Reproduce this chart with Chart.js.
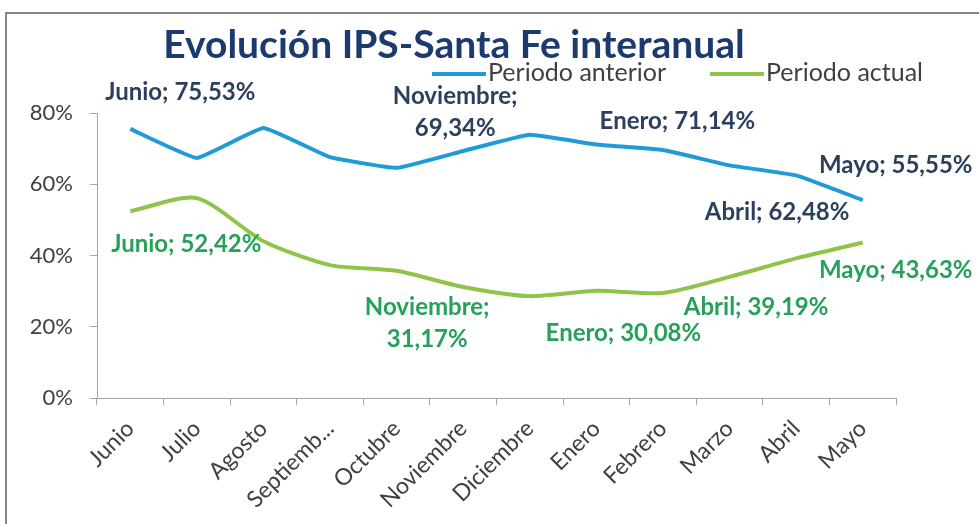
<!DOCTYPE html>
<html lang="es">
<head>
<meta charset="utf-8">
<title>Evolución IPS-Santa Fe interanual</title>
<script src="https://cdn.jsdelivr.net/npm/chart.js@4.4.1/dist/chart.umd.min.js"></script>
<style>
  html, body { margin: 0; padding: 0; background: #fff; overflow: hidden; }
  #wrap { position: relative; width: 979px; height: 524px; }
</style>
</head>
<body>
<div id="wrap"><canvas id="ipsChart"></canvas></div>
<script>
// Data
const MONTHS = ['Junio', 'Julio', 'Agosto', 'Septiembre', 'Octubre', 'Noviembre',
                'Diciembre', 'Enero', 'Febrero', 'Marzo', 'Abril', 'Mayo'];
const PREVIOUS = [75.53, 67.4, 75.8, 67.6, 64.6, 69.34, 73.9, 71.14, 69.6, 65.3, 62.48, 55.55];
const CURRENT  = [52.42, 56.1, 44.0, 37.3, 35.7, 31.17, 28.6, 30.08, 29.5, 34.0, 39.19, 43.63];
const Y_TICKS = [0, 20, 40, 60, 80];

const TITLE = 'Evolución IPS-Santa Fe interanual';
const COLOR_PREV = '#1f9bd8';
const COLOR_CURR = '#8fc449';
const LABEL_PREV = '#2b3f5f';
const LABEL_CURR = '#27a05a';
const FONT = "Lato, 'Noto Sans', sans-serif";

// which points get a data label, and where (offset of the label centre from the point)
// [dataset, index, dx, dy, splitIntoTwoLines]
const LABEL_SPOTS = [
  [0, 0, 50, -37, false],
  [0, 5, -8, -39, true],
  [0, 7, 81, -23, false],
  [0, 10, -19, 37, false],
  [0, 11, 33, -35, false],
  [1, 0, 56, 33, false],
  [1, 5, -36, 36, true],
  [1, 7, 27, 42, false],
  [1, 10, -40, 49, false],
  [1, 11, 33, 28, false]
];

const fmt = v => v.toFixed(2).replace('.', ',') + '%';

const framePlugin = {
  id: 'frame',
  beforeDraw(chart) {
    const ctx = chart.ctx;
    ctx.save();
    ctx.fillStyle = '#fff';
    ctx.fillRect(0, 0, chart.width, chart.height);
    ctx.strokeStyle = '#858585';
    ctx.lineWidth = 2;
    ctx.strokeRect(6, 13, chart.width + 40, chart.height + 40);
    ctx.restore();
  }
};

const headerPlugin = {
  id: 'header',
  afterDraw(chart) {
    const ctx = chart.ctx;
    ctx.save();
    // title
    ctx.fillStyle = '#1c3a6e';
    ctx.font = `bold 39px ${FONT}`;
    ctx.textAlign = 'center';
    ctx.textBaseline = 'middle';
    ctx.fillText(TITLE, 454, 45);

    // legend
    ctx.font = `25px ${FONT}`;
    ctx.textAlign = 'left';
    ctx.lineWidth = 4;
    const items = [[chart.data.datasets[0], 432], [chart.data.datasets[1], 710]];
    items.forEach(([ds, x]) => {
      ctx.strokeStyle = ds.borderColor;
      ctx.beginPath();
      ctx.moveTo(x, 74);
      ctx.lineTo(x + 54, 74);
      ctx.stroke();
      ctx.fillStyle = '#404040';
      ctx.fillText(ds.label, x + 56, 73);
    });
    ctx.restore();
  }
};

const pointLabelsPlugin = {
  id: 'pointLabels',
  afterDatasetsDraw(chart) {
    const ctx = chart.ctx;
    ctx.save();
    ctx.font = `bold 24px ${FONT}`;
    ctx.textAlign = 'center';
    ctx.textBaseline = 'middle';
    LABEL_SPOTS.forEach(([d, i, dx, dy, split]) => {
      const pt = chart.getDatasetMeta(d).data[i];
      const value = chart.data.datasets[d].data[i];
      ctx.fillStyle = d === 0 ? LABEL_PREV : LABEL_CURR;
      const x = pt.x + dx, y = pt.y + dy;
      if (split) {
        ctx.fillText(MONTHS[i] + ';', x, y - 16);
        ctx.fillText(fmt(value), x, y + 16);
      } else {
        ctx.fillText(`${MONTHS[i]}; ${fmt(value)}`, x, y);
      }
    });
    ctx.restore();
  }
};

Chart.defaults.font.family = FONT;

new Chart(document.getElementById('ipsChart'), {
  type: 'line',
  data: {
    labels: MONTHS,
    datasets: [{
      label: 'Periodo anterior',
      data: PREVIOUS,
      borderColor: COLOR_PREV,
      borderWidth: 4,
      pointRadius: 0,
      tension: 0.1
    }, {
      label: 'Periodo actual',
      data: CURRENT,
      borderColor: COLOR_CURR,
      borderWidth: 4,
      pointRadius: 0,
      tension: 0.25
    }]
  },
  options: {
    responsive: true,
    maintainAspectRatio: false,
    animation: false,
    layout: { padding: { top: 113, right: 83, left: 0, bottom: 0 } },
    plugins: {
      legend: { display: false },
      title: { display: false },
      tooltip: { enabled: false }
    },
    scales: {
      x: {
        offset: true,
        afterFit: s => { s.height = 126; },
        border: { display: true, color: '#a6a6a6', width: 1 },
        grid: { drawOnChartArea: false, drawTicks: true, tickLength: 7, color: '#a6a6a6', offset: true },
        ticks: {
          autoSkip: false,
          minRotation: 45,
          maxRotation: 45,
          padding: 10,
          color: '#404040',
          font: { size: 23 },
          callback: function (v) {
            const t = this.getLabelForValue(v);
            return t.length > 9 ? t.slice(0, 8) + '...' : t;
          }
        }
      },
      y: {
        min: 0,
        max: 80,
        afterFit: s => { s.width = 97; },
        afterBuildTicks: s => { s.ticks = Y_TICKS.map(v => ({ value: v })); },
        border: { display: true, color: '#a6a6a6', width: 1 },
        grid: { drawOnChartArea: false, drawTicks: true, tickLength: 7, color: '#a6a6a6' },
        ticks: {
          padding: 17,
          color: '#404040',
          font: { size: 22 },
          callback: v => v + '%'
        }
      }
    }
  },
  plugins: [framePlugin, headerPlugin, pointLabelsPlugin]
});
</script>
</body>
</html>
